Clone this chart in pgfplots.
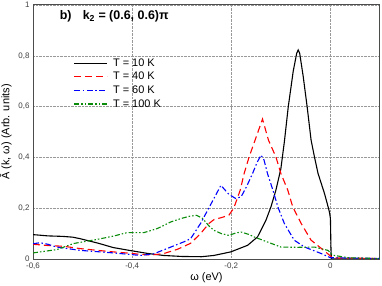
\documentclass[border=0pt]{standalone}
\usepackage{fontspec}
\setmainfont{Liberation Sans}
\usepackage{pgfplots}
\pgfplotsset{compat=1.18}
\definecolor{dkgreen}{RGB}{10,140,10}
\tikzset{
  tk10/.style={draw=black, line width=1.1bp, solid},
  tk40/.style={draw=red, line width=1.1bp, dash pattern=on 7bp off 4bp},
  tk60/.style={draw=blue, line width=1.1bp, dash pattern=on 6bp off 2.5bp on 1.5bp off 2.5bp},
  tk100/.style={draw=dkgreen, line width=1.1bp, dash pattern=on 5bp off 2bp on 1.5bp off 2bp on 1.5bp off 2bp},
}
\begin{document}
\begin{tikzpicture}
\begin{axis}[
    at={(33bp,27bp)}, anchor=south west,
    scale only axis, width=347bp, height=254bp,
    xmin=-0.6, xmax=0.1, ymin=0, ymax=1,
    xtick={-0.6,-0.4,-0.2,0},
    ytick={0,0.2,0.4,0.6,0.8,1},
    /pgf/number format/.cd, use comma, assume math mode=true, /pgfplots/.cd,
    ticklabel style={font=\fontsize{8}{9}\selectfont, text=black!75},
    xticklabel style={yshift=-0.5bp},
    major tick length=0pt,
    grid=major,
    major grid style={densely dotted, gray!80, line width=0.5pt},
    axis line style={draw=black!70, line width=1pt},
    xlabel={ω (eV)},
    ylabel={Ā (k, ω) (Arb. units)},
    label style={font=\fontsize{11}{13}\selectfont},
    xlabel style={at={(axis description cs:0.5,-0.075)}, anchor=center},
    ylabel style={at={(axis description cs:-0.078,0.5)}, anchor=center},
    legend style={at={(axis cs:-0.518,0.793)}, anchor=north west, draw=none, fill=none,
        font=\fontsize{11}{13}\selectfont, row sep=2.4pt, inner sep=0pt,
        nodes={inner sep=1pt},
        /tikz/every odd column/.append style={column sep=4bp}},
    legend cell align=left,
]
\addplot[tk10, legend image code/.code={\draw[tk10, line width=1.2bp] (0bp,0bp) -- (33bp,0bp);}] coordinates {
(-0.6,0.096) (-0.57,0.091) (-0.54,0.089) (-0.52,0.086) (-0.505,0.080)
(-0.47,0.063) (-0.438,0.045) (-0.403,0.033) (-0.369,0.022) (-0.337,0.014)
(-0.3,0.010) (-0.26,0.009) (-0.235,0.014) (-0.201,0.028) (-0.167,0.054)
(-0.147,0.087) (-0.130,0.153) (-0.120,0.205) (-0.110,0.271) (-0.100,0.355)
(-0.093,0.46) (-0.085,0.6) (-0.075,0.74) (-0.068,0.81) (-0.065,0.823)
(-0.062,0.81) (-0.055,0.72) (-0.047,0.6) (-0.039,0.468) (-0.032,0.40)
(-0.025,0.337) (-0.012,0.258) (-0.006,0.215) (-0.002,0.185) (0.0,0.16)
(0.001,0.05) (0.002,0.0) (0.1,0.0)};
\addlegendentry{T = 10 K}
\addplot[tk40, legend image code/.code={\draw[tk40, line width=1.2bp] (0bp,0bp) -- (33bp,0bp);}] coordinates {
(-0.6,0.058) (-0.57,0.053) (-0.538,0.050) (-0.505,0.041) (-0.47,0.034)
(-0.438,0.028) (-0.40,0.022) (-0.383,0.018) (-0.36,0.016) (-0.337,0.021)
(-0.309,0.038) (-0.295,0.050) (-0.282,0.062) (-0.262,0.100) (-0.245,0.140)
(-0.235,0.155) (-0.22,0.163) (-0.205,0.172) (-0.195,0.20) (-0.182,0.271)
(-0.174,0.337) (-0.164,0.402) (-0.152,0.468) (-0.137,0.551) (-0.125,0.468)
(-0.110,0.402) (-0.100,0.337) (-0.086,0.271) (-0.076,0.205) (-0.059,0.14)
(-0.039,0.074) (-0.018,0.041) (0.0,0.012) (0.01,0.004) (0.1,0.002)};
\addlegendentry{T = 40 K}
\addplot[tk60, legend image code/.code={\draw[tk60, line width=1.2bp] (0bp,0bp) -- (33bp,0bp);}] coordinates {
(-0.6,0.06) (-0.586,0.064) (-0.57,0.058) (-0.552,0.047) (-0.505,0.034)
(-0.438,0.024) (-0.383,0.014) (-0.357,0.020) (-0.322,0.047) (-0.295,0.068)
(-0.282,0.08) (-0.262,0.14) (-0.24,0.22) (-0.221,0.290) (-0.205,0.255)
(-0.191,0.238) (-0.180,0.245) (-0.168,0.29) (-0.157,0.337) (-0.148,0.38)
(-0.140,0.409) (-0.134,0.39) (-0.127,0.337) (-0.116,0.271) (-0.106,0.205)
(-0.093,0.14) (-0.073,0.074) (-0.052,0.047) (-0.018,0.021) (0.0,0.005)
(0.1,0.002)};
\addlegendentry{T = 60 K}
\addplot[tk100, legend image code/.code={\draw[tk100, line width=1.2bp] (0bp,0bp) -- (33bp,0bp);}] coordinates {
(-0.6,0.024) (-0.552,0.037) (-0.518,0.061) (-0.471,0.077) (-0.438,0.090)
(-0.410,0.104) (-0.376,0.104) (-0.349,0.12) (-0.322,0.146) (-0.302,0.159)
(-0.285,0.168) (-0.27,0.172) (-0.258,0.16) (-0.245,0.13) (-0.235,0.113)
(-0.22,0.10) (-0.205,0.093) (-0.19,0.103) (-0.18,0.106) (-0.165,0.097)
(-0.154,0.087) (-0.127,0.067) (-0.1,0.047) (-0.066,0.046) (-0.032,0.047)
(-0.005,0.034) (0.005,0.015) (0.036,0.005) (0.1,0.002)};
\addlegendentry{T = 100 K}
\node[anchor=west, font=\bfseries\fontsize{12.5}{14}\selectfont]
    at (axis cs:-0.553,0.957) {b)\hspace{0.9em}k\textsubscript{2} = (0.6, 0.6)π};
\end{axis}
\pgfresetboundingbox
\useasboundingbox (0,0) rectangle (382bp,286bp);
\end{tikzpicture}
\end{document}
